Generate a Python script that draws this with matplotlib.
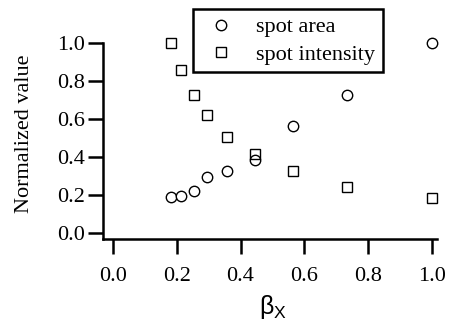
import matplotlib
matplotlib.use('Agg')
import matplotlib.pyplot as plt

# data
beta_x = [0.183, 0.213, 0.253, 0.295, 0.359, 0.444, 0.565, 0.733, 1.0]
spot_area = [0.189, 0.196, 0.223, 0.293, 0.328, 0.386, 0.565, 0.728, 1.0]
spot_intensity = [1.0, 0.858, 0.728, 0.623, 0.505, 0.416, 0.328, 0.245, 0.187]
ticks = [0.0, 0.2, 0.4, 0.6, 0.8, 1.0]

plt.rcParams['font.family'] = ['Liberation Serif', 'DejaVu Serif']
plt.rcParams['mathtext.fontset'] = 'custom'
plt.rcParams['mathtext.rm'] = 'Liberation Sans'
plt.rcParams['mathtext.it'] = 'Liberation Sans'

fig = plt.figure(figsize=(4.53, 3.2), dpi=100)
ax = fig.add_axes([0.228, 0.252, 0.736, 0.614])

ax.plot(beta_x, spot_area, linestyle='none', marker='o', markersize=7.5,
        markerfacecolor='white', markeredgecolor='black', markeredgewidth=1.0,
        clip_on=False, label='spot area')
ax.plot(beta_x, spot_intensity, linestyle='none', marker='s', markersize=7.5,
        markerfacecolor='none', markeredgecolor='black', markeredgewidth=1.0,
        clip_on=False, label='spot intensity')

ax.set_xlim(-0.031, 1.016)
ax.set_ylim(-0.032, 1.0)
ax.set_xticks(ticks)
ax.set_yticks(ticks)
ax.set_xticklabels([f'{t:.1f}' for t in ticks])
ax.set_yticklabels([f'{t:.1f}' for t in ticks])

for s in ['top', 'right']:
    ax.spines[s].set_visible(False)
for s in ['left', 'bottom']:
    ax.spines[s].set_linewidth(1.8)
ax.tick_params(axis='both', direction='out', length=11, width=1.8,
               labelsize=16, pad=2)
ax.tick_params(axis='x', pad=9)

ax.set_ylabel('Normalized value', fontsize=16)
ax.yaxis.set_label_coords(-0.235, 0.538)
ax.yaxis.label.set_va('center')
ax.set_xlabel(r'$\mathrm{\beta}_{\mathrm{X}}$', fontsize=18)
ax.xaxis.set_label_coords(0.509, -0.345)
ax.xaxis.label.set_va('center')

leg = ax.legend(loc='upper left', bbox_to_anchor=(0.426, 0.972),
                bbox_transform=fig.transFigure, borderaxespad=0,
                fontsize=16, fancybox=False, framealpha=1, edgecolor='black',
                handletextpad=0.7, borderpad=0.35, labelspacing=0.3,
                handlelength=1.8)
leg.get_frame().set_linewidth(1.8)

fig.savefig('out.png', dpi=100)
